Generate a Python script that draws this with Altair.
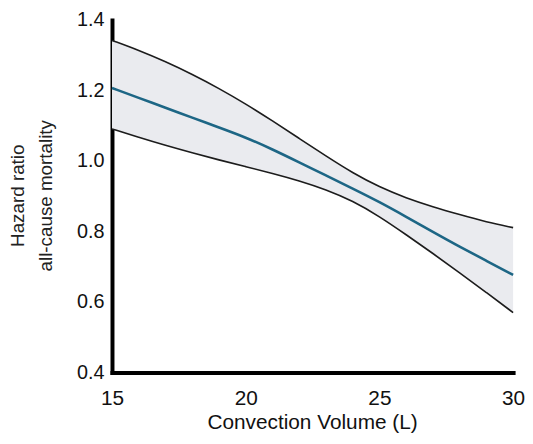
import altair as alt
import pandas as pd

volume = [15, 16, 17, 18, 19, 20, 21, 22, 23, 24, 25, 26, 27, 28, 29, 30]
hr_mid = [1.207, 1.179, 1.151, 1.123, 1.095, 1.067, 1.033, 0.996, 0.959, 0.922,
          0.884, 0.842, 0.799, 0.757, 0.717, 0.677]
hr_upper = [1.342, 1.314, 1.282, 1.246, 1.206, 1.162, 1.114, 1.064, 1.014, 0.966,
            0.926, 0.895, 0.870, 0.848, 0.827, 0.811]
hr_lower = [1.091, 1.067, 1.044, 1.023, 1.003, 0.984, 0.965, 0.944, 0.919, 0.887,
            0.843, 0.791, 0.738, 0.683, 0.627, 0.570]

df = pd.DataFrame({"vol": volume, "mid": hr_mid, "upper": hr_upper, "lower": hr_lower})

FONT = "Liberation Sans"
INTERP = "basis"

x_enc = alt.X(
    "vol:Q",
    scale=alt.Scale(domain=[15, 30], nice=False, zero=False),
    axis=alt.Axis(
        title="Convection Volume (L)",
        values=[15, 20, 25, 30],
        grid=False, ticks=False, tickSize=0, labelFlush=False,
        domainColor="black", domainWidth=4, domainCap="square",
        labelFont=FONT, labelFontSize=21, labelColor="#111",
        labelBaseline="alphabetic", labelPadding=32,
        titleFont=FONT, titleFontSize=21, titleFontWeight="normal", titleColor="#111",
        titleBaseline="alphabetic", titleY=56, titleX=202,
    ),
)
y_scale = alt.Scale(domain=[0.4, 1.4], nice=False, zero=False)
y_axis = alt.Axis(
    title=["Hazard ratio", "all-cause mortality"],
    values=[0.4, 0.6, 0.8, 1.0, 1.2, 1.4],
    format=".1f",
    grid=False, ticks=False, tickSize=0, labelFlush=False,
    domainColor="black", domainWidth=4, domainCap="square",
    labelFont=FONT, labelFontSize=20, labelColor="#111", labelPadding=8,
    titleFont=FONT, titleFontSize=19, titleFontWeight="normal", titleColor="#222",
    titleAngle=270, titleAlign="center", titleBaseline="alphabetic",
    titleX=-89, titleY=177, titleLineHeight=28,
)

band = alt.Chart(df).mark_area(color="#eaebef", interpolate=INTERP).encode(
    x=x_enc,
    y=alt.Y("lower:Q", scale=y_scale, axis=y_axis),
    y2="upper:Q",
)
up = alt.Chart(df).mark_line(color="#1c1c1c", strokeWidth=1.6, interpolate=INTERP).encode(
    x="vol:Q", y="upper:Q"
)
lo = alt.Chart(df).mark_line(color="#1c1c1c", strokeWidth=1.6, interpolate=INTERP).encode(
    x="vol:Q", y="lower:Q"
)
mid = alt.Chart(df).mark_line(color="#1d6685", strokeWidth=2.6, interpolate=INTERP).encode(
    x="vol:Q", y="mid:Q"
)

chart = (band + up + lo + mid).properties(
    width=405, height=356,
    autosize=alt.AutoSizeParams(type="none"),
    padding={"left": 105, "top": 10, "right": 12, "bottom": 62},
    background="white",
).configure_view(stroke=None)

chart.save("out.html", embed_options={"renderer": "svg", "actions": False})
